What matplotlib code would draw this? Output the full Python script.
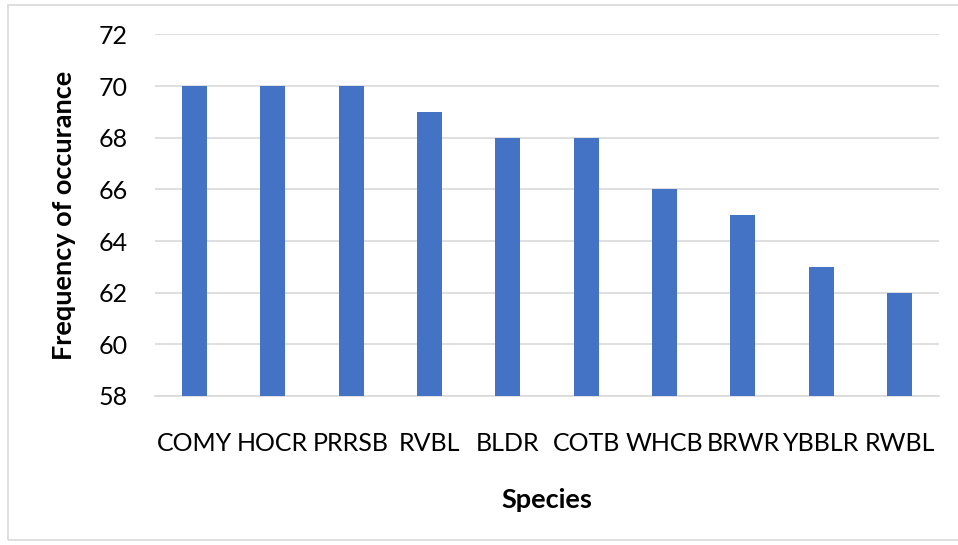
import matplotlib.pyplot as plt
from matplotlib.patches import Rectangle

species = ['COMY', 'HOCR', 'PRRSB', 'RVBL', 'BLDR', 'COTB', 'WHCB', 'BRWR', 'YBBLR', 'RWBL']
freq = [70, 70, 70, 69, 68, 68, 66, 65, 63, 62]
yticks = [58, 60, 62, 64, 66, 68, 70, 72]

plt.rcParams['font.family'] = ['Lato', 'DejaVu Sans']

fig = plt.figure(figsize=(9.58, 5.45), dpi=100)
# light frame around the chart
fig.patches.append(Rectangle((8 / 958, 5 / 545), 960 / 958, 535 / 545,
                             transform=fig.transFigure, fill=False,
                             edgecolor='#d9d9d9', linewidth=1.2))

ax = fig.add_axes([0.162, 0.2734, 0.818, 0.6633])
x = range(len(species))
ax.bar(x, freq, width=0.32, color='#4472C4', zorder=3)

ax.set_ylim(58, 72)
ax.set_xlim(-0.5, len(species) - 0.5)
ax.set_yticks(yticks)
ax.set_xticks(list(x))
ax.set_xticklabels(species)
ax.grid(axis='y', color='#d9d9d9', linewidth=1.2, zorder=0)
for s in ['top', 'right', 'left']:
    ax.spines[s].set_visible(False)
ax.spines['bottom'].set_color('#d9d9d9')
ax.spines['bottom'].set_linewidth(1.2)
ax.tick_params(axis='both', length=0, labelsize=18)
ax.tick_params(axis='y', pad=20)
ax.tick_params(axis='x', pad=26)

ax.set_xlabel('Species', fontsize=19.5, fontweight='bold', labelpad=24)
ax.set_ylabel('Frequency of occurance', fontsize=19.5, fontweight='bold', labelpad=16)

fig.savefig('out.png', dpi=100)
